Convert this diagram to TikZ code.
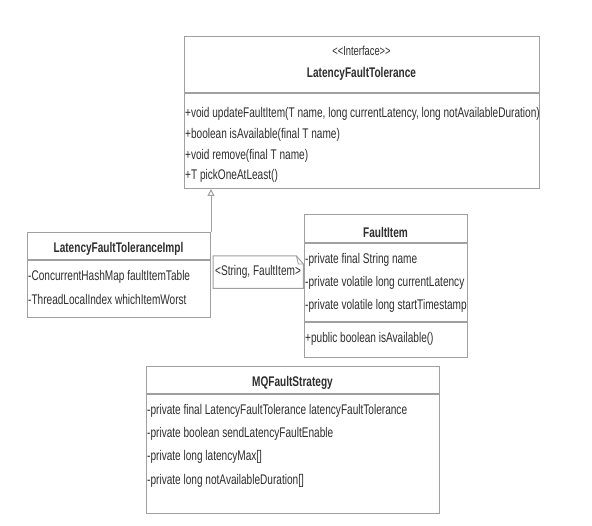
\documentclass[tikz,border=0pt]{standalone}
\usepackage{fontspec}
\setmainfont[FakeStretch=0.72,Ligatures=TeXOff]{Liberation Sans}
\usetikzlibrary{arrows.meta}
\definecolor{linegray}{HTML}{A0A0A0}
\definecolor{txtgray}{HTML}{2E2E2E}
\begin{document}
\begin{tikzpicture}[x=1pt,y=-1pt,
  box/.style={draw=linegray, line width=1pt, inner sep=0pt, anchor=north west},
  sep/.style={draw=linegray, line width=1.5pt},
  txt/.style={anchor=west, inner sep=0pt, text=txtgray, font=\fontsize{14}{16}\selectfont},
  ttl/.style={anchor=center, inner sep=0pt, text=txtgray, font=\fontsize{14}{16}\selectfont\bfseries},
  realize/.style={draw=linegray, line width=1pt, -{Triangle[open, length=7pt, width=7pt]}}
]
\useasboundingbox (0,0) rectangle (592,526);
\fill[white] (0,0) rectangle (592,526);

% Interface LatencyFaultTolerance
\node[box, minimum width=355pt, minimum height=152pt] (iface) at (184,36) {};
\node[ttl, font=\fontsize{13}{15}\selectfont] (istereo) at (361.5,51) {<<Interface>>};
\node[ttl] (iname) at (361.5,74) {LatencyFaultTolerance};
\draw[sep] (184,93) -- (539,93);
\node[txt] (im1) at (185,114) {+void updateFaultItem(T name, long currentLatency, long notAvailableDuration)};
\node[txt] (im2) at (185,135) {+boolean isAvailable(final T name)};
\node[txt] (im3) at (185,156) {+void remove(final T name)};
\node[txt] (im4) at (185,176) {+T pickOneAtLeast()};

% LatencyFaultToleranceImpl
\node[box, minimum width=183pt, minimum height=85pt] (impl) at (27,232) {};
\node[ttl] (implname) at (118.5,249) {LatencyFaultToleranceImpl};
\draw[sep] (27,260) -- (210,260);
\node[txt] (ia1) at (28,277) {-ConcurrentHashMap faultItemTable};
\node[txt] (ia2) at (28,299) {-ThreadLocalIndex whichItemWorst};

% realization arrow
\draw[realize] (impl.north east) -- (impl.north east |- iface.south);

% FaultItem
\node[box, minimum width=163pt, minimum height=143pt] (fitem) at (304,214) {};
\node[ttl] (fname) at (385.5,232) {FaultItem};
\draw[sep] (304,243) -- (467,243);
\node[txt] (fa1) at (305,260) {-private final String name};
\node[txt] (fa2) at (305,283) {-private volatile long currentLatency};
\node[txt] (fa3) at (305,306) {-private volatile long startTimestamp};
\draw[sep] (304,322) -- (467,322);
\node[txt] (fm1) at (305,339) {+public boolean isAvailable()};

% template note
\node[inner sep=0pt, minimum width=90pt, minimum height=32pt, anchor=north west] (note) at (213,256) {};
\draw[draw=linegray, line width=1pt] (note.north west) -- ([xshift=-7pt]note.north east) -- ([yshift=-8pt]note.north east) -- (note.south east) -- (note.south west) -- cycle;
\draw[draw=linegray, line width=0.8pt] ([xshift=-7pt]note.north east) -- ([xshift=-5pt,yshift=-8pt]note.north east) -- ([yshift=-8pt]note.north east);
\node[txt, anchor=west] (notetxt) at (215,272) {<String, FaultItem>};

% MQFaultStrategy
\node[box, minimum width=293pt, minimum height=147pt] (mq) at (146,366) {};
\node[ttl] (mqname) at (292.5,383) {MQFaultStrategy};
\draw[sep] (146,394) -- (439,394);
\node[txt] (ma1) at (147,411) {-private final LatencyFaultTolerance latencyFaultTolerance};
\node[txt] (ma2) at (147,434) {-private boolean sendLatencyFaultEnable};
\node[txt] (ma3) at (147,457) {-private long latencyMax[]};
\node[txt] (ma4) at (147,481) {-private long notAvailableDuration[]};
\end{tikzpicture}
\end{document}
